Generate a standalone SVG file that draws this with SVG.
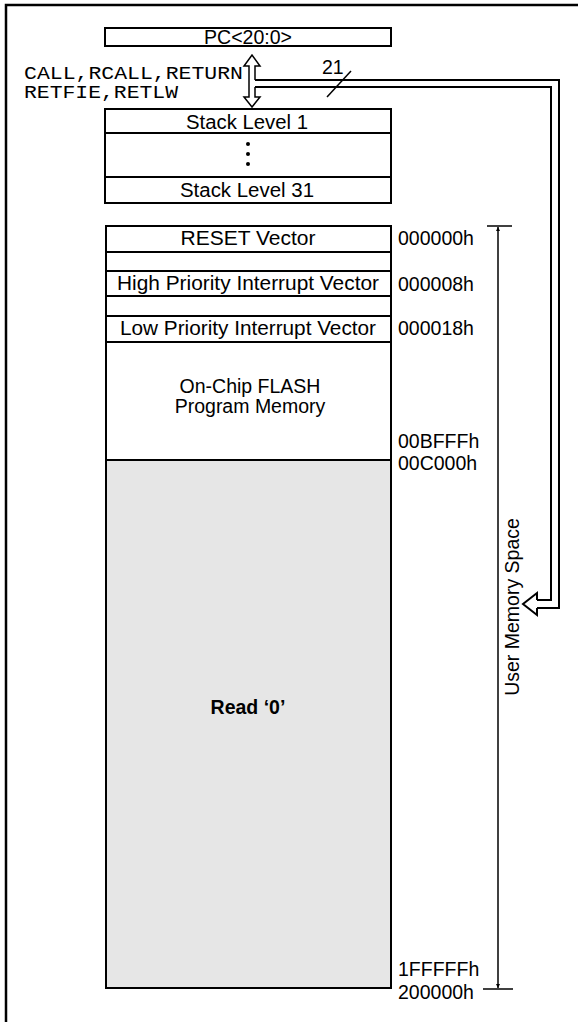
<svg xmlns="http://www.w3.org/2000/svg" width="578" height="1022" viewBox="0 0 578 1022">
<style>
.box{fill:#fff;stroke:#000;stroke-width:2}
.grey{fill:#e6e6e6;stroke:#000;stroke-width:2}
.t{font-family:"Liberation Sans",Arial,sans-serif;font-size:19.5px;fill:#000}
.c{text-anchor:middle}
.m{font-family:"Liberation Mono","Courier New",monospace;font-size:18px;fill:#000}
.ln{fill:none;stroke:#000;stroke-width:2}
.thin{fill:none;stroke:#000;stroke-width:1.5}
</style>
<defs>
<marker id="ah" viewBox="0 0 10 10" refX="10" refY="5" markerWidth="4" markerHeight="7" orient="auto" markerUnits="userSpaceOnUse">
<path d="M0,0 L10,5 L0,10 Z" fill="#000"/>
</marker>
</defs>
<rect x="6" y="5" width="600" height="1040" fill="none" stroke="#000" stroke-width="2.5"/>

<g id="pc">
<rect class="box" x="105" y="28" width="286" height="18"/>
<text class="t c" x="248" y="44">PC&lt;20:0&gt;</text>
</g>

<g id="instr">
<text class="m" x="24" y="79" textLength="219" lengthAdjust="spacingAndGlyphs">CALL,RCALL,RETURN</text>
<text class="m" x="24" y="98" textLength="154" lengthAdjust="spacingAndGlyphs">RETFIE,RETLW</text>
</g>

<g id="stack">
<rect class="box" x="105" y="109" width="286" height="94"/>
<line class="ln" x1="105" y1="133" x2="391" y2="133"/>
<line class="ln" x1="105" y1="177" x2="391" y2="177"/>
<text class="t c" x="247" y="129" textLength="122" lengthAdjust="spacingAndGlyphs">Stack Level 1</text>
<circle cx="248" cy="144" r="2"/>
<circle cx="248" cy="154" r="2"/>
<circle cx="248" cy="164" r="2"/>
<text class="t c" x="247" y="197" textLength="134" lengthAdjust="spacingAndGlyphs">Stack Level 31</text>
</g>

<g id="memory">
<rect class="box" x="106" y="226" width="285" height="234"/>
<rect class="grey" x="106" y="460" width="285" height="528"/>
<line class="ln" x1="106" y1="252" x2="391" y2="252"/>
<line class="ln" x1="106" y1="271" x2="391" y2="271"/>
<line class="ln" x1="106" y1="296" x2="391" y2="296"/>
<line class="ln" x1="106" y1="316" x2="391" y2="316"/>
<line class="ln" x1="106" y1="342" x2="391" y2="342"/>
<text class="t c" x="248" y="245" textLength="135" lengthAdjust="spacingAndGlyphs">RESET Vector</text>
<text class="t c" x="248" y="290" textLength="262" lengthAdjust="spacingAndGlyphs">High Priority Interrupt Vector</text>
<text class="t c" x="248" y="335" textLength="256" lengthAdjust="spacingAndGlyphs">Low Priority Interrupt Vector</text>
<text class="t c" x="250" y="393">On-Chip FLASH</text>
<text class="t c" x="250" y="413">Program Memory</text>
<text class="t c" x="248" y="714" style="font-weight:bold">Read ‘0’</text>
</g>

<g id="addresses">
<text class="t" x="398" y="245">000000h</text>
<text class="t" x="398" y="291">000008h</text>
<text class="t" x="398" y="335">000018h</text>
<text class="t" x="398" y="448">00BFFFh</text>
<text class="t" x="398" y="470">00C000h</text>
<text class="t" x="398" y="976">1FFFFFh</text>
<text class="t" x="398" y="999">200000h</text>
</g>

<g id="userspace">
<line class="thin" x1="487" y1="226" x2="512" y2="226"/>
<line class="thin" x1="483" y1="989" x2="513" y2="989"/>
<line class="thin" x1="498" y1="600" x2="498" y2="227" marker-end="url(#ah)"/>
<line class="thin" x1="498" y1="600" x2="498" y2="988" marker-end="url(#ah)"/>
<text class="t c" transform="translate(519,607) rotate(-90)">User Memory Space</text>
</g>

<g id="connectors">
<path class="thin" d="M255,80 V66 H260 L252,55 L244,66 H249 V97 H244 L252,107 L260,97 H255 V87"/>
<path class="ln" d="M255,80 H559 V608 H537"/>
<path class="ln" d="M255,87 H551 V600 H537"/>
<path class="ln" d="M537,600 V593 L523,604 L537,615 V608"/>
<line class="thin" x1="327" y1="97" x2="351" y2="71"/>
<text class="t" x="322" y="74">21</text>
</g>
</svg>
